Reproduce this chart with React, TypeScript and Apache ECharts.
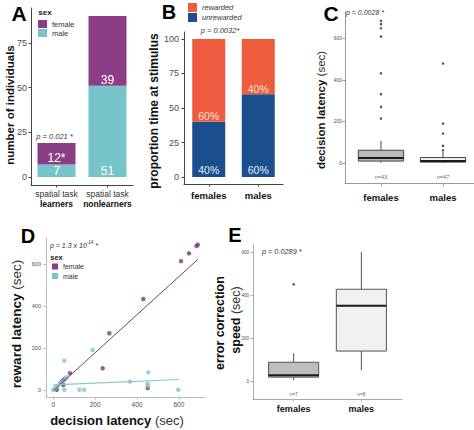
import React, { useEffect, useRef } from 'react';
import * as echarts from 'echarts';

// ---------- Panel A ----------
const groupsA = ['learners', 'nonlearners'];
const maleA = [7, 51];
const femaleA = [12, 39];
const femaleLabelsA = ['12*', '39'];
const ticksA = [0, 25, 50, 75];

// ---------- Panel B ----------
const sexes = ['females', 'males'];
const unrewardedB = [40, 60];
const rewardedB = [60, 40];
const ticksB = [0, 25, 50, 75, 100];

// ---------- Panel C ----------  [x, min, q1, median, q3, max]
const boxC = [
  [1, 2, 10, 25, 62, 107],
  [2, 0, 5, 10, 27, 55],
];
const outliersC = [
  [1, 214], [1, 270], [1, 331], [1, 431], [1, 607], [1, 647], [1, 667], [1, 683],
  [2, 62], [2, 83], [2, 142], [2, 190], [2, 478],
];
const nC = ['n=43', 'n=47'];
const nPosC = [[1, -66], [2, -66]];
const ticksC = [0, 200, 400, 600];

// ---------- Panel D ----------
const femaleD = [
  [690, 692], [684, 686], [648, 651], [610, 614], [430, 433], [268, 270], [236, 103],
  [451, 8], [80, 79], [53, 50], [45, 43], [37, 34], [48, 23], [17, 0],
];
const maleD = [
  [188, 190], [53, 139], [454, 83], [367, 39], [451, 29], [451, 19], [597, 0], [125, 0],
  [148, 0], [53, 0], [0, 0], [10, 10], [21, 18], [32, 31], [45, 39], [58, 55], [64, 60],
];
const fitFemaleD = [[2, -3], [690, 622]];
const fitMaleD = [[0, 23], [600, 49]];
const ticksD = [0, 200, 400, 600];

// ---------- Panel E ----------
const boxE = [
  [1, 5, 19, 28, 88, 130],
  [2, 51, 140, 350, 427, 600],
];
const outliersE = [[1, 450]];
const nE = ['n=7', 'n=8'];
const nPosE = [[1, -58], [2, -58]];
const ticksE = [0, 200, 400, 600];

const FONT = 'Liberation Sans, Arial, sans-serif';
const FEMALE = '#8B3E86';
const MALE = '#77C4CB';
const FEMALE_D = '#7B3A7E';
const MALE_D = '#80C7CD';
const REWARDED = '#EE5B3E';
const UNREWARDED = '#1B4E8D';

function valAxis(gridIndex: number, min: number, max: number, ticks: number[], fontSize: number,
  lineColor: string, margin: number, extraLabel: any = {}) {
  return {
    type: 'value', gridIndex, min, max,
    axisLine: { show: true, onZero: false, lineStyle: { color: lineColor, width: 1 } },
    axisTick: { show: true, customValues: ticks, length: 2.5, lineStyle: { color: lineColor } },
    axisLabel: { customValues: ticks, fontSize, color: '#4D4D4D', margin, fontFamily: FONT, ...extraLabel },
    splitLine: { show: false },
  };
}

function catAxis(gridIndex: number, data: string[], lineColor: string, margin: number, label: any) {
  return {
    type: 'category', gridIndex, data, boundaryGap: true,
    axisLine: { show: true, onZero: false, lineStyle: { color: lineColor, width: 1 } },
    axisTick: { show: true, alignWithLabel: true, length: 2.5, lineStyle: { color: lineColor } },
    axisLabel: { margin, fontFamily: FONT, interval: 0, ...label },
    splitLine: { show: false },
  };
}

function makeBox(fills: string[], boxWidth: number, stroke: string) {
  return (params: any, api: any) => {
    const x = api.value(0);
    const lo = api.coord([x, api.value(1)]);
    const q1 = api.coord([x, api.value(2)]);
    const md = api.coord([x, api.value(3)]);
    const q3 = api.coord([x, api.value(4)]);
    const hi = api.coord([x, api.value(5)]);
    const half = api.size([boxWidth, 0])[0] / 2;
    const cx = md[0];
    return {
      type: 'group',
      children: [
        { type: 'line', shape: { x1: cx, y1: lo[1], x2: cx, y2: q1[1] }, style: { stroke, lineWidth: 1 } },
        { type: 'line', shape: { x1: cx, y1: q3[1], x2: cx, y2: hi[1] }, style: { stroke, lineWidth: 1 } },
        { type: 'rect', shape: { x: cx - half, y: q3[1], width: half * 2, height: q1[1] - q3[1] },
          style: { fill: fills[params.dataIndex], stroke, lineWidth: 1 } },
        { type: 'line', shape: { x1: cx - half, y1: md[1], x2: cx + half, y2: md[1] },
          style: { stroke: '#1a1a1a', lineWidth: 2 } },
      ],
    };
  };
}

function txt(x: number, y: number, text: string, o: any = {}) {
  return {
    type: 'text', x, y, rotation: o.rot || 0, silent: true,
    style: {
      text, fontFamily: FONT, fontSize: o.size || 8, fontWeight: o.weight || 'normal',
      fontStyle: o.style || 'normal', fill: o.color || '#222',
      align: o.align || 'center', textAlign: o.align || 'center',
      verticalAlign: 'middle', textVerticalAlign: 'middle', rich: o.rich,
    },
  };
}

const titleRich = (size: number) => ({
  b: { fontFamily: FONT, fontSize: size, fontWeight: 'bold', fill: '#111', color: '#111' },
  n: { fontFamily: FONT, fontSize: size, fontWeight: 'normal', fill: '#333', color: '#333' },
});

export default function App() {
  const ref = useRef<HTMLDivElement>(null);
  useEffect(() => {
    if (!ref.current) return;
    const chart = echarts.init(ref.current, null, { renderer: 'svg' });
    const option: any = {
      animation: false,
      backgroundColor: '#ffffff',
      textStyle: { fontFamily: FONT },
      grid: [
        { left: 31, top: 8, width: 102, height: 177, outerBoundsMode: 'none' },
        { left: 184, top: 32, width: 99, height: 152, outerBoundsMode: 'none' },
        { left: 345, top: 11.5, width: 129, height: 172, outerBoundsMode: 'none' },
        { left: 46, top: 238, width: 159, height: 159, outerBoundsMode: 'none' },
        { left: 253, top: 245, width: 149, height: 154, outerBoundsMode: 'none' },
      ],
      xAxis: [
        catAxis(0, groupsA, '#444', 4, {
          formatter: (v: string) => `{n|spatial task}\n{b|${v}}`,
          rich: {
            n: { fontSize: 8.5, color: '#333', lineHeight: 10, fontFamily: FONT },
            b: { fontSize: 8.5, color: '#111', fontWeight: 'bold', lineHeight: 10, fontFamily: FONT },
          },
        }),
        catAxis(1, sexes, '#444', 6, { fontSize: 9.5, fontWeight: 'bold', color: '#111' }),
        valAxis(2, 0.42, 2.5, [1, 2], 9.5, '#999', 9, {
          formatter: (v: number) => sexes[v - 1], fontWeight: 'bold', color: '#111',
        }),
        valAxis(3, -34.5, 724.5, ticksD, 6.5, '#BBB', 3.5),
        valAxis(4, 0.4, 2.6, [1, 2], 9, '#AAA', 5, {
          formatter: (v: number) => sexes[v - 1], fontWeight: 'bold', color: '#111',
        }),
      ],
      yAxis: [
        valAxis(0, -4.5, 94.5, ticksA, 9, '#444', 4),
        valAxis(1, -5, 105, ticksB, 9, '#444', 5),
        valAxis(2, -97.5, 727.5, ticksC, 5, '#999', 3),
        valAxis(3, -34.5, 724.5, ticksD, 5.5, '#BBB', 5),
        valAxis(4, -82.5, 632.5, ticksE, 4.5, '#AAA', 4),
      ],
      legend: [
        {
          left: 38, top: 20, orient: 'vertical', data: ['female', 'male'], icon: 'rect',
          itemWidth: 9, itemHeight: 8, itemGap: 1, padding: 0, selectedMode: false,
          textStyle: { fontSize: 7.5, color: '#333', fontFamily: FONT },
        },
        {
          left: 188, top: 3, orient: 'vertical', data: ['rewarded', 'unrewarded'], icon: 'rect',
          itemWidth: 9, itemHeight: 9, itemGap: 1, padding: 0, selectedMode: false,
          textStyle: { fontSize: 7.5, color: '#333', fontStyle: 'italic', fontFamily: FONT },
        },
        {
          left: 52, top: 263, orient: 'vertical', data: ['female', 'male'], icon: 'rect',
          itemWidth: 6, itemHeight: 6, itemGap: 2.5, padding: 0, selectedMode: false,
          textStyle: { fontSize: 7, color: '#333', fontFamily: FONT },
        },
      ],
      series: [
        // A
        {
          name: 'male', type: 'bar', xAxisIndex: 0, yAxisIndex: 0, stack: 'a', barWidth: 38,
          data: maleA, itemStyle: { color: MALE },
          label: { show: true, position: 'insideBottom', distance: 0, color: '#fff', fontSize: 12,
            fontFamily: FONT },
        },
        {
          name: 'female', type: 'bar', xAxisIndex: 0, yAxisIndex: 0, stack: 'a', barWidth: 38,
          data: femaleA, itemStyle: { color: FEMALE },
          label: { show: true, position: 'insideBottom', distance: 0, color: '#fff', fontSize: 12,
            fontFamily: FONT, formatter: (p: any) => femaleLabelsA[p.dataIndex] },
        },
        // B
        {
          name: 'unrewarded', type: 'bar', xAxisIndex: 1, yAxisIndex: 1, stack: 'b', barWidth: 33,
          data: unrewardedB, itemStyle: { color: UNREWARDED },
          label: { show: true, position: 'insideBottom', distance: 2, color: '#E6ECF4', fontSize: 10.5,
            fontFamily: FONT, formatter: '{c}%' },
        },
        {
          name: 'rewarded', type: 'bar', xAxisIndex: 1, yAxisIndex: 1, stack: 'b', barWidth: 33,
          data: rewardedB, itemStyle: { color: REWARDED },
          label: { show: true, position: 'insideBottom', distance: 0, color: '#F8E4DE', fontSize: 10.5,
            fontFamily: FONT, formatter: '{c}%' },
        },
        // C
        {
          type: 'custom', xAxisIndex: 2, yAxisIndex: 2, data: boxC, encode: { x: 0, y: [1, 2, 3, 4, 5] },
          renderItem: makeBox(['#BABABA', '#F2F2F2'], 0.73, '#444'),
        },
        {
          type: 'scatter', xAxisIndex: 2, yAxisIndex: 2, data: outliersC, symbolSize: 2.5,
          itemStyle: { color: '#222' },
        },
        {
          type: 'scatter', xAxisIndex: 2, yAxisIndex: 2, data: nPosC, symbolSize: 0,
          label: { show: true, position: 'inside', fontSize: 5.5, color: '#333', fontFamily: FONT,
            formatter: (p: any) => nC[p.dataIndex] },
        },
        // D
        {
          name: 'female fit', type: 'line', xAxisIndex: 3, yAxisIndex: 3, data: fitFemaleD,
          showSymbol: false, lineStyle: { color: FEMALE_D, width: 1 }, itemStyle: { color: FEMALE_D },
        },
        {
          name: 'male fit', type: 'line', xAxisIndex: 3, yAxisIndex: 3, data: fitMaleD,
          showSymbol: false, lineStyle: { color: MALE_D, width: 1.2 }, itemStyle: { color: MALE_D },
        },
        {
          name: 'female', type: 'scatter', xAxisIndex: 3, yAxisIndex: 3, data: femaleD, symbolSize: 4.5,
          itemStyle: { color: FEMALE_D },
        },
        {
          name: 'male', type: 'scatter', xAxisIndex: 3, yAxisIndex: 3, data: maleD, symbolSize: 4.5,
          itemStyle: { color: MALE_D },
        },
        // E
        {
          type: 'custom', xAxisIndex: 4, yAxisIndex: 4, data: boxE, encode: { x: 0, y: [1, 2, 3, 4, 5] },
          renderItem: makeBox(['#BEBEBE', '#F0F0F0'], 0.74, '#555'),
        },
        {
          type: 'scatter', xAxisIndex: 4, yAxisIndex: 4, data: outliersE, symbolSize: 2.5,
          itemStyle: { color: '#222' },
        },
        {
          type: 'scatter', xAxisIndex: 4, yAxisIndex: 4, data: nPosE, symbolSize: 0,
          label: { show: true, position: 'inside', fontSize: 5, color: '#333', fontFamily: FONT,
            formatter: (p: any) => nE[p.dataIndex] },
        },
      ],
      graphic: [
        // panel letters
        txt(19, 13, 'A', { size: 21, weight: 'bold', color: '#000' }),
        txt(169, 12, 'B', { size: 20, weight: 'bold', color: '#000' }),
        txt(331, 13, 'C', { size: 21, weight: 'bold', color: '#000' }),
        txt(28, 236, 'D', { size: 20, weight: 'bold', color: '#000' }),
        txt(235, 235, 'E', { size: 20, weight: 'bold', color: '#000' }),
        // axis titles
        txt(10, 105, 'number of individuals', { size: 11.5, weight: 'bold', color: '#111', rot: Math.PI / 2 }),
        txt(154, 111, 'proportion time at stimulus', { size: 12, weight: 'bold', color: '#111', rot: Math.PI / 2 }),
        txt(321, 110, '{b|decision latency} {n|(sec)}', { size: 11.5, rot: Math.PI / 2, rich: titleRich(11.5) }),
        txt(16, 324, '{b|reward latency} {n|(sec)}', { size: 13.5, rot: Math.PI / 2, rich: titleRich(13.5) }),
        txt(117, 420, '{b|decision latency} {n|(sec)}', { size: 13, rich: titleRich(13) }),
        txt(220, 323, '{b|error correction}', { size: 12.5, rot: Math.PI / 2, rich: titleRich(12.5) }),
        txt(236, 320, '{b|speed} {n|(sec)}', { size: 12.5, rot: Math.PI / 2, rich: titleRich(12.5) }),
        // legend titles
        txt(45, 12.5, 'sex', { size: 8, weight: 'bold', color: '#222' }),
        txt(56.5, 257, 'sex', { size: 7.5, weight: 'bold', color: '#222' }),
        // p values
        txt(54.5, 136, 'p = 0.021 *', { size: 7.5, style: 'italic', color: '#333' }),
        txt(220, 30, 'p = 0.0032*', { size: 7.5, style: 'italic', color: '#333' }),
        txt(346, 12, 'p = 0.0028 *', { size: 7, style: 'italic', color: '#333', align: 'left' }),
        txt(262, 251, 'p = 0.0289 *', { size: 7.3, style: 'italic', color: '#333', align: 'left' }),
        txt(50, 245, '{n|p = 1.3 x 10}{s|-14}{n| *}', {
          size: 7, align: 'left',
          rich: {
            n: { fontFamily: FONT, fontSize: 7, fontStyle: 'italic', fill: '#333', color: '#333', lineHeight: 10 },
            s: { fontFamily: FONT, fontSize: 4.5, fontStyle: 'italic', fill: '#333', color: '#333',
              lineHeight: 10, padding: [0, 0, 5, 0] },
          },
        }),
      ],
    };
    chart.setOption(option);
    return () => chart.dispose();
  }, []);
  return (
    <div
      ref={ref}
      style={{ position: 'absolute', left: 0, top: 0, width: 474, height: 430, background: '#fff' }}
    />
  );
}
